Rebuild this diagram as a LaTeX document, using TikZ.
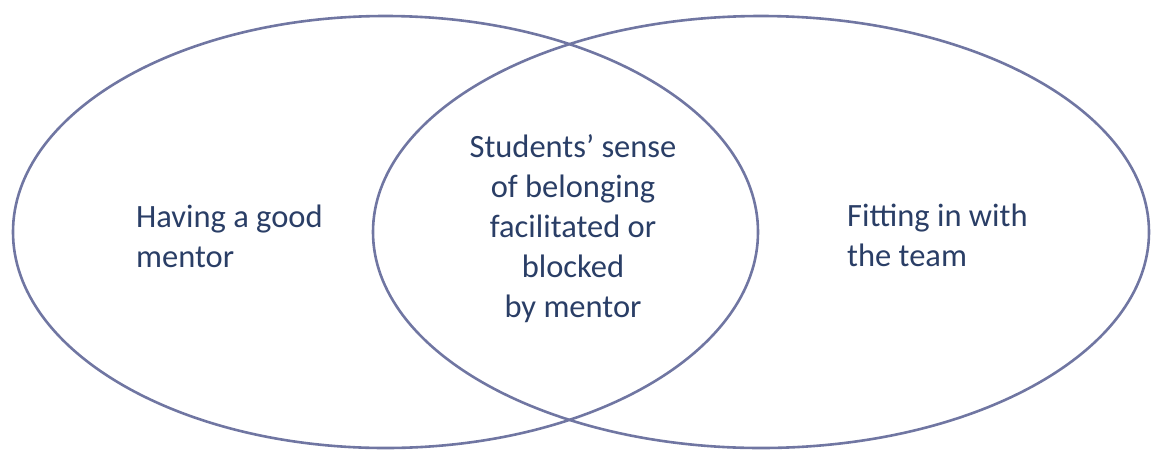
\documentclass[tikz,border=0pt]{standalone}
\usepackage{fontspec}
\setmainfont{Carlito}
\definecolor{ringcol}{RGB}{112,118,162}
\definecolor{txtcol}{RGB}{42,62,102}
\tikzset{
  ring/.style={draw=ringcol, line width=2.6pt},
  label/.style={text=txtcol, inner sep=0pt, font=\fontsize{32.5}{40}\selectfont}
}
\begin{document}
\begin{tikzpicture}[x=1pt,y=-1pt]
\useasboundingbox (0,0) rectangle (1152,451);
\draw[ring] (385.5,232) ellipse [x radius=372.5pt, y radius=216pt];
\draw[ring] (761,232) ellipse [x radius=388pt, y radius=216pt];
\node[label, anchor=west, align=left] (lt) at (136,236) {Having a good\\mentor};
\node[label, anchor=center, align=center] (ct) at (573,228.5) {Students’ sense\\of belonging\\facilitated or\\blocked\\by mentor};
\node[label, anchor=west, align=left] (rt) at (847,235.5) {Fitting in with\\the team};
\end{tikzpicture}
\end{document}
